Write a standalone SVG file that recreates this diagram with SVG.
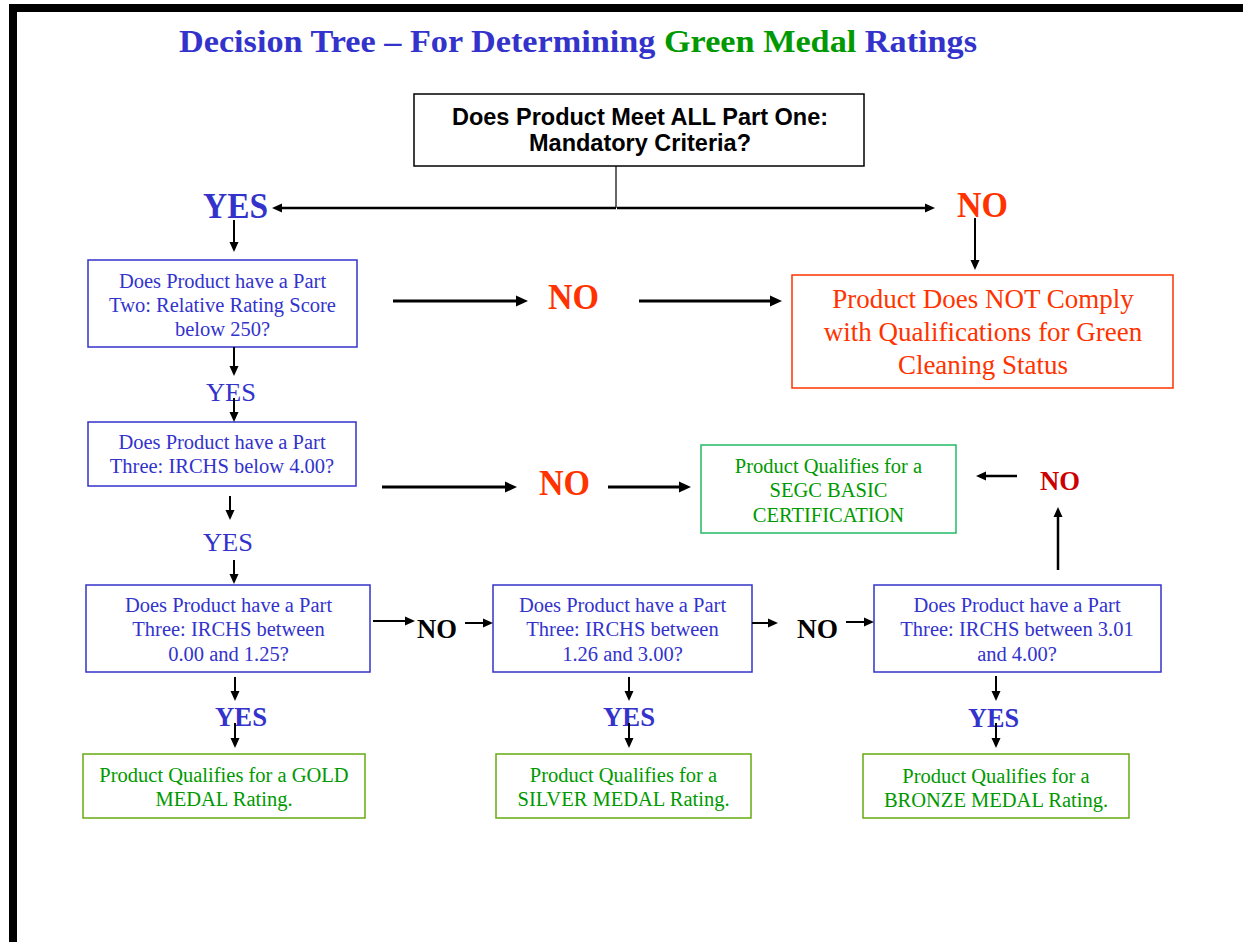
<svg xmlns="http://www.w3.org/2000/svg" width="1243" height="942" viewBox="0 0 1243 942">
<style>
.bg{fill:#fff}
.frame{fill:#000}
.title{font-family:"Liberation Serif","Times New Roman",serif;font-weight:bold;font-size:32px;fill:#3333CC}
.tg{fill:#009900}
.topt{font-family:"Liberation Sans",Arial,sans-serif;font-weight:bold;font-size:23.5px;fill:#000;text-anchor:middle}
.bt{font-family:"Liberation Serif","Times New Roman",serif;font-size:20.5px;fill:#3333CC;text-anchor:middle}
.gt{font-family:"Liberation Serif","Times New Roman",serif;font-size:20.5px;fill:#009900;text-anchor:middle}
.rt{font-family:"Liberation Serif","Times New Roman",serif;font-size:27px;fill:#FF3300;text-anchor:middle}
.bbox{fill:#fff;stroke:#3333CC;stroke-width:1.5}
.gbox{fill:#fff;stroke:#66AA11;stroke-width:1.5}
.sbox{fill:#fff;stroke:#22BB66;stroke-width:1.5}
.rbox{fill:#fff;stroke:#FF3300;stroke-width:1.5}
.kbox{fill:#fff;stroke:#000;stroke-width:1.5}
.lbl{font-family:"Liberation Serif","Times New Roman",serif;font-weight:bold}
.yesB{fill:#3333CC}
.yesR{font-family:"Liberation Serif","Times New Roman",serif;font-size:26px;fill:#3333CC}
.noR{fill:#FF3300}
.noD{fill:#CC0000}
.noK{fill:#000}
.c{fill:none;stroke:#000;stroke-width:2}
.cT{fill:none;stroke:#000;stroke-width:2.5}
.cL{fill:none;stroke:#000;stroke-width:3}
.thin{fill:none;stroke:#000;stroke-width:1.2}
</style>
<defs>
<marker id="ah" viewBox="0 0 10 10" refX="3" refY="5" markerWidth="10" markerHeight="10" markerUnits="userSpaceOnUse" orient="auto"><path d="M0,0.5 L10,5 L0,9.5 Z" fill="#000"/></marker>
<marker id="ahL" viewBox="0 0 12 12" refX="3" refY="6" markerWidth="12" markerHeight="12" markerUnits="userSpaceOnUse" orient="auto"><path d="M0,0.5 L12,6 L0,11.5 Z" fill="#000"/></marker>
</defs>
<rect class="bg" x="0" y="0" width="1243" height="942"/>
<rect class="frame" x="9" y="4" width="1234" height="8"/>
<rect class="frame" x="9" y="4" width="8" height="938"/>

<text class="title" x="179" y="52" textLength="798" lengthAdjust="spacingAndGlyphs">Decision Tree – For Determining <tspan class="tg">Green Medal</tspan> Ratings</text>

<g id="q-mandatory">
<rect class="kbox" x="414" y="94" width="450" height="72"/>
<text class="topt" x="640" y="125">Does Product Meet ALL Part One:</text>
<text class="topt" x="640" y="151">Mandatory Criteria?</text>
</g>

<g id="q-part-two">
<rect class="bbox" x="88" y="260" width="269" height="87"/>
<text class="bt" x="222.5" y="288">Does Product have a Part</text>
<text class="bt" x="222.5" y="312">Two: Relative Rating Score</text>
<text class="bt" x="222.5" y="336">below 250?</text>
</g>

<g id="not-comply">
<rect class="rbox" x="792" y="275" width="381" height="113"/>
<text class="rt" x="983" y="308">Product Does NOT Comply</text>
<text class="rt" x="983" y="341">with Qualifications for Green</text>
<text class="rt" x="983" y="374">Cleaning Status</text>
</g>

<g id="q-part-three">
<rect class="bbox" x="88" y="422" width="268" height="64"/>
<text class="bt" x="222" y="449">Does Product have a Part</text>
<text class="bt" x="222" y="473">Three: IRCHS below 4.00?</text>
</g>

<g id="segc-basic">
<rect class="sbox" x="701" y="445" width="255" height="88"/>
<text class="gt" x="828.5" y="473">Product Qualifies for a</text>
<text class="gt" x="828.5" y="497">SEGC BASIC</text>
<text class="gt" x="828.5" y="522">CERTIFICATION</text>
</g>

<g id="q-gold">
<rect class="bbox" x="86" y="585" width="284" height="87"/>
<text class="bt" x="228.5" y="612">Does Product have a Part</text>
<text class="bt" x="228.5" y="636">Three: IRCHS between</text>
<text class="bt" x="228.5" y="661">0.00 and 1.25?</text>
</g>

<g id="q-silver">
<rect class="bbox" x="493" y="585" width="259" height="87"/>
<text class="bt" x="622.5" y="612">Does Product have a Part</text>
<text class="bt" x="622.5" y="636">Three: IRCHS between</text>
<text class="bt" x="622.5" y="661">1.26 and 3.00?</text>
</g>

<g id="q-bronze">
<rect class="bbox" x="874" y="585" width="287" height="87"/>
<text class="bt" x="1017" y="612">Does Product have a Part</text>
<text class="bt" x="1017" y="636">Three: IRCHS between 3.01</text>
<text class="bt" x="1017" y="661">and 4.00?</text>
</g>

<g id="gold">
<rect class="gbox" x="83" y="754" width="282" height="64"/>
<text class="gt" x="224" y="782">Product Qualifies for a GOLD</text>
<text class="gt" x="224" y="806">MEDAL Rating.</text>
</g>

<g id="silver">
<rect class="gbox" x="496" y="754" width="255" height="64"/>
<text class="gt" x="623.5" y="782">Product Qualifies for a</text>
<text class="gt" x="623.5" y="806">SILVER MEDAL Rating.</text>
</g>

<g id="bronze">
<rect class="gbox" x="863" y="754" width="266" height="64"/>
<text class="gt" x="996" y="783">Product Qualifies for a</text>
<text class="gt" x="996" y="807">BRONZE MEDAL Rating.</text>
</g>

<g id="labels">
<text class="lbl yesB" x="203" y="218" font-size="36" textLength="65" lengthAdjust="spacingAndGlyphs">YES</text>
<text class="lbl noR" x="957" y="217" font-size="36" textLength="51" lengthAdjust="spacingAndGlyphs">NO</text>
<text class="lbl noR" x="548" y="309" font-size="35" textLength="51" lengthAdjust="spacingAndGlyphs">NO</text>
<text class="yesR" x="206" y="401" textLength="50" lengthAdjust="spacingAndGlyphs">YES</text>
<text class="lbl noR" x="539" y="495" font-size="35" textLength="51" lengthAdjust="spacingAndGlyphs">NO</text>
<text class="yesR" x="203" y="551" textLength="50" lengthAdjust="spacingAndGlyphs">YES</text>
<text class="lbl noD" x="1040" y="490" font-size="28" textLength="40" lengthAdjust="spacingAndGlyphs">NO</text>
<text class="lbl noK" x="417" y="638" font-size="28" textLength="40" lengthAdjust="spacingAndGlyphs">NO</text>
<text class="lbl noK" x="797" y="638" font-size="28" textLength="41" lengthAdjust="spacingAndGlyphs">NO</text>
<text class="lbl yesB" x="215" y="726" font-size="28" textLength="52" lengthAdjust="spacingAndGlyphs">YES</text>
<text class="lbl yesB" x="603" y="726" font-size="28" textLength="52" lengthAdjust="spacingAndGlyphs">YES</text>
<text class="lbl yesB" x="968" y="727" font-size="28" textLength="51" lengthAdjust="spacingAndGlyphs">YES</text>
</g>

<g id="connectors">
<path class="thin" d="M616,166 V208"/>
<path class="cT" d="M616,208 H279" marker-end="url(#ah)"/>
<path class="cT" d="M617,208 H928" marker-end="url(#ah)"/>
<path class="c" d="M234,220 V245" marker-end="url(#ah)"/>
<path class="c" d="M975,218 V263" marker-end="url(#ah)"/>
<path class="cL" d="M393,301 H519" marker-end="url(#ahL)"/>
<path class="cL" d="M639,301 H773" marker-end="url(#ahL)"/>
<path class="c" d="M234,347 V369" marker-end="url(#ah)"/>
<path class="c" d="M234,398 V415" marker-end="url(#ah)"/>
<path class="c" d="M230,496 V513" marker-end="url(#ah)"/>
<path class="c" d="M234,560 V577" marker-end="url(#ah)"/>
<path class="cL" d="M382,487 H508" marker-end="url(#ahL)"/>
<path class="cL" d="M608,487 H682" marker-end="url(#ahL)"/>
<path class="cT" d="M1058,570 V514" marker-end="url(#ah)"/>
<path class="cT" d="M1017,476 H983" marker-end="url(#ah)"/>
<path class="c" d="M373,621 H408" marker-end="url(#ah)"/>
<path class="c" d="M465,623 H486" marker-end="url(#ah)"/>
<path class="c" d="M752,623 H771" marker-end="url(#ah)"/>
<path class="c" d="M846,622 H867" marker-end="url(#ah)"/>
<path class="c" d="M235,677 V694" marker-end="url(#ah)"/>
<path class="c" d="M235,723 V741" marker-end="url(#ah)"/>
<path class="c" d="M629,677 V694" marker-end="url(#ah)"/>
<path class="c" d="M629,723 V741" marker-end="url(#ah)"/>
<path class="c" d="M996,676 V694" marker-end="url(#ah)"/>
<path class="c" d="M996,723 V741" marker-end="url(#ah)"/>
</g>
</svg>
